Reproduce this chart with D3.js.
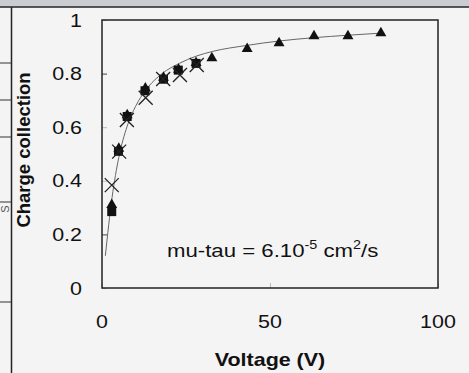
<!DOCTYPE html>
<html><head><meta charset="utf-8">
<script src="https://cdn.jsdelivr.net/npm/d3@7"></script>
<style>
html,body{margin:0;padding:0;background:#f4f4f4;}
svg{display:block;}
text{font-family:"Liberation Sans",Arial,sans-serif;fill:#111;}
</style></head><body>
<script>
// Data
const triV = [2.9, 5.0, 7.5, 12.9, 18.3, 22.8, 28.0, 32.7, 43.2, 52.7, 63.1, 73.2, 83.0];
const triQ = [0.31, 0.52, 0.645, 0.745, 0.785, 0.815, 0.84, 0.858, 0.892, 0.914, 0.94, 0.94, 0.951];
const sqV = [2.9, 4.9, 7.5, 12.8, 18.3, 22.7, 28.0];
const sqQ = [0.285, 0.51, 0.64, 0.736, 0.779, 0.813, 0.838];
const xV = [2.9, 5.1, 7.4, 13.0, 18.2, 23.2, 28.2];
const xQ = [0.384, 0.509, 0.627, 0.71, 0.78, 0.795, 0.832];
const fitV = [1, 2, 3, 4, 5, 7.5, 10, 13, 18, 23, 28, 33, 43, 53, 63, 73, 83];
const fitQ = [0.12, 0.236, 0.338, 0.42, 0.487, 0.604, 0.678, 0.738, 0.801, 0.838, 0.865, 0.883, 0.905, 0.922, 0.934, 0.943, 0.951];
const xTicks = [0, 50, 100];
const yTicks = [0, 0.2, 0.4, 0.6, 0.8, 1];
const yTickLabels = ["0", "0.2", "0.4", "0.6", "0.8", "1"];
const leftStripLines = [63, 100, 137, 202, 302];

const W = 469, H = 373;
const SX = 1.16; // horizontal stretch of text in the reference
const svg = d3.select("body").append("svg").attr("width", W).attr("height", H);
svg.append("rect").attr("width", W).attr("height", H).attr("fill", "#f4f4f4");

// top band & left strip (decoration from surrounding screenshot)
svg.append("rect").attr("x", 0).attr("y", 0).attr("width", W).attr("height", 6.5).attr("fill", "#c9cdd1");
svg.append("line").attr("x1", 0).attr("x2", W).attr("y1", 7).attr("y2", 7).attr("stroke", "#222").attr("stroke-width", 1.3);
svg.append("line").attr("x1", 11.5).attr("x2", 11.5).attr("y1", 7).attr("y2", H).attr("stroke", "#222").attr("stroke-width", 1.5);
svg.selectAll(".ls").data(leftStripLines).enter().append("line")
  .attr("x1", 0).attr("x2", 11.5).attr("y1", d => d).attr("y2", d => d)
  .attr("stroke", "#333").attr("stroke-width", 1);
svg.append("text").attr("transform", "translate(6,209) rotate(-90)").attr("text-anchor", "middle")
  .attr("dominant-baseline", "middle").style("font-size", "11px").style("fill", "#555").text("S");

const L = 102, R = 438, T = 20, B = 288;
const x = d3.scaleLinear().domain([0, 100]).range([L, R]);
const y = d3.scaleLinear().domain([0, 1]).range([B, T]);

// tick marks (inside)
svg.append("g").attr("transform", `translate(0,${B})`)
  .call(d3.axisBottom(x).tickValues(xTicks).tickSize(-5).tickFormat(""))
  .call(g => g.select(".domain").remove())
  .call(g => g.selectAll("line").attr("stroke", "#bbb"));
svg.append("g").attr("transform", `translate(${L},0)`)
  .call(d3.axisLeft(y).tickValues(yTicks).tickSize(-5).tickFormat(""))
  .call(g => g.select(".domain").remove())
  .call(g => g.selectAll("line").attr("stroke", (d) => (d === 0.2 || d === 0.8) ? "#444" : "#bbb"));

// tick labels
svg.selectAll(".yl").data(yTicks).enter().append("text")
  .attr("transform", d => `translate(82,${y(d)}) scale(${SX},1)`).attr("text-anchor", "end").attr("dy", "0.36em")
  .style("font-size", "18.5px").text((d, i) => yTickLabels[i]);
svg.selectAll(".xl").data(xTicks).enter().append("text")
  .attr("transform", d => `translate(${x(d)},328) scale(${SX},1)`).attr("text-anchor", "middle")
  .style("font-size", "18.5px").text(d => d);

// axis titles
svg.append("text").attr("transform", `translate(270,366) scale(${SX},1)`).attr("text-anchor", "middle")
  .style("font-size", "18.5px").style("font-weight", "bold").text("Voltage (V)");
svg.append("text").attr("transform", "translate(30,150) rotate(-90)").attr("text-anchor", "middle")
  .style("font-size", "18.5px").style("font-weight", "bold").text("Charge collection");

// fit curve
const line = d3.line().x(d => x(d[0])).y(d => y(d[1])).curve(d3.curveMonotoneX);
svg.append("path").datum(fitV.map((v, i) => [v, fitQ[i]]))
  .attr("d", line).attr("fill", "none").attr("stroke", "#666").attr("stroke-width", 1);

// markers
const gM = svg.append("g");
gM.selectAll(".tri").data(triV.map((v, i) => [v, triQ[i]])).enter().append("path")
  .attr("transform", d => `translate(${x(d[0])},${y(d[1])})`)
  .attr("d", d3.symbol().type(d3.symbolTriangle).size(52)).attr("fill", "#111");
gM.selectAll(".sq").data(sqV.map((v, i) => [v, sqQ[i]])).enter().append("rect")
  .attr("x", d => x(d[0]) - 4.5).attr("y", d => y(d[1]) - 4.5).attr("width", 9).attr("height", 9).attr("fill", "#111");
gM.selectAll(".xm").data(xV.map((v, i) => [v, xQ[i]])).enter().append("path")
  .attr("transform", d => `translate(${x(d[0])},${y(d[1])})`)
  .attr("d", "M-7,-7L7,7M-7,7L7,-7").attr("stroke", "#222").attr("stroke-width", 1.3).attr("fill", "none");

// frame
svg.append("rect").attr("x", L).attr("y", T).attr("width", R - L).attr("height", B - T)
  .attr("fill", "none").attr("stroke", "#222").attr("stroke-width", 1.5);

// annotation
const ann = svg.append("text").attr("transform", `translate(167,257) scale(${SX + 0.04},1)`).style("font-size", "18.5px");
ann.append("tspan").text("mu-tau = 6.10");
ann.append("tspan").attr("dy", -8).style("font-size", "12px").text("-5");
ann.append("tspan").attr("dy", 8).text(" cm");
ann.append("tspan").attr("dy", -8).style("font-size", "12px").text("2");
ann.append("tspan").attr("dy", 8).text("/s");
</script>
</body></html>
